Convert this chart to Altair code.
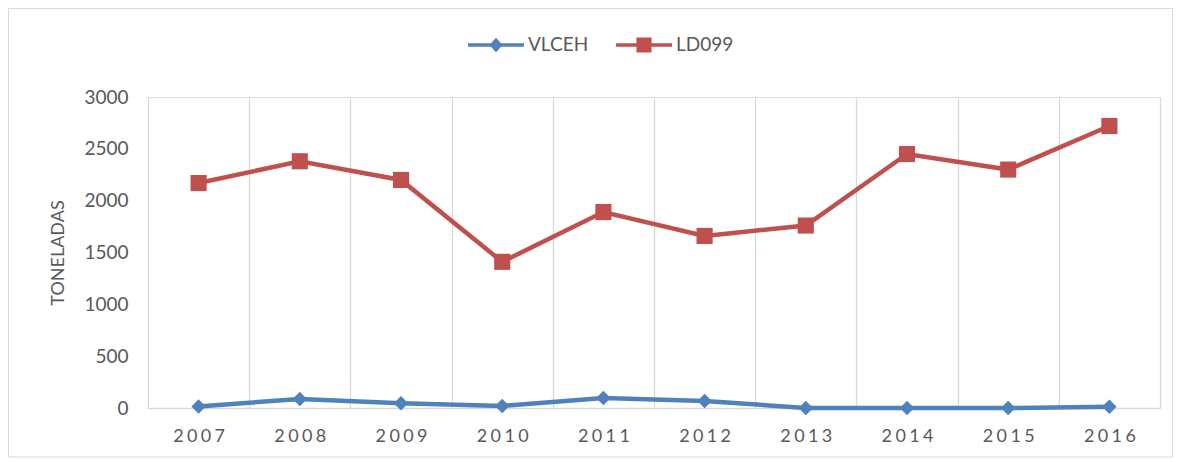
import altair as alt
import pandas as pd

years = ["2007", "2008", "2009", "2010", "2011", "2012", "2013", "2014", "2015", "2016"]
vlceh = [15, 87, 45, 20, 96, 68, 0, 0, 0, 12]
ld099 = [2170, 2380, 2200, 1410, 1890, 1660, 1760, 2450, 2300, 2720]
series_names = ["VLCEH", "LD099"]
series_colors = ["#4f81bd", "#c0504d"]
series_markers = ["diamond", "square"]
marker_sizes = [210, 260]

rows = []
for name, vals in zip(series_names, [vlceh, ld099]):
    for y, v in zip(years, vals):
        rows.append({"year": y, "series": name, "value": v})
df = pd.DataFrame(rows)

W, H = 1012, 311
FONT = "Lato"
GREY = "#595959"

x_enc = alt.X(
    "year:O",
    scale=alt.Scale(type="band", paddingInner=0, paddingOuter=0),
    axis=alt.Axis(
        title=None,
        tickBand="extent",
        grid=True,
        gridColor="#d9d9d9",
        gridWidth=1.3,
        ticks=False,
        domainColor="#d9d9d9",
        domainWidth=1.3,
        labelAngle=0,
        labelFont=FONT,
        labelFontSize=18,
        labelColor=GREY,
        labelPadding=19,
        labelExpr="join(split(datum.label, ''), '\u2009\u200a')",
    ),
)
y_enc = alt.Y(
    "value:Q",
    scale=alt.Scale(domain=[0, 3000], nice=False),
    axis=alt.Axis(
        title="TONELADAS",
        values=[0, 500, 1000, 1500, 2000, 2500, 3000],
        format="d",
        grid=False,
        domain=False,
        ticks=False,
        labelFont=FONT,
        labelFontSize=19,
        labelColor=GREY,
        labelPadding=20,
        titleFont=FONT,
        titleFontSize=18,
        titleFontWeight="normal",
        titleColor=GREY,
        titleX=-90,
        titleY=H / 2,
        titleAngle=270,
        titleAlign="center",
        titleBaseline="middle",
    ),
)

# legend symbols: a thick line with the marker in its middle (unit coords)
legend_paths = [
    "M-1,-0.065L1,-0.065L1,0.065L-1,0.065Z M-0.24,0L0,-0.26L0.24,0L0,0.26Z",
    "M-1,-0.065L1,-0.065L1,0.065L-1,0.065Z M-0.27,-0.27L0.27,-0.27L0.27,0.27L-0.27,0.27Z",
]

layers = []
for name, col, mk, sz in zip(series_names, series_colors, series_markers, marker_sizes):
    base = alt.Chart(df).transform_filter(alt.datum.series == name)
    layers.append(base.mark_line(strokeWidth=4.5, color=col).encode(x=x_enc, y=y_enc))
    layers.append(
        base.mark_point(filled=True, opacity=1, shape=mk, size=sz, color=col).encode(x=x_enc, y=y_enc)
    )

leg = alt.Legend(
    title=None,
    orient="none",
    direction="horizontal",
    legendX=320,
    legendY=-80,
    padding=0,
    symbolSize=3136,
    symbolStrokeWidth=0,
    symbolOpacity=1,
    labelFont=FONT,
    labelFontSize=19,
    labelColor=GREY,
    labelOffset=4,
    columnPadding=27,
)

# legend-only layer (no rows survive the filter; scales have explicit domains)
legend_layer = (
    alt.Chart(df)
    .transform_filter("false")
    .mark_point(filled=True, opacity=1)
    .encode(
        x=x_enc,
        y=y_enc,
        color=alt.Color("series:N", scale=alt.Scale(domain=series_names, range=series_colors), sort=series_names, legend=leg),
        shape=alt.Shape("series:N", scale=alt.Scale(domain=series_names, range=legend_paths), sort=series_names, legend=leg),
    )
)

border = alt.Chart(pd.DataFrame({"a": [0]})).mark_rect(
    fill=None, stroke="#d9d9d9", strokeWidth=1
).encode(
    x=alt.value(-139.5), x2=alt.value(1024.5), y=alt.value(-88.5), y2=alt.value(360)
)

chart = alt.layer(border, *layers, legend_layer).properties(
    width=W,
    height=H,
    autosize=alt.AutoSizeParams(type="none"),
    padding={"left": 140, "top": 89, "right": 13, "bottom": 50},
).configure_view(stroke=None).configure(background="white")

chart.save("out.html", embed_options={"renderer": "svg", "actions": False})
